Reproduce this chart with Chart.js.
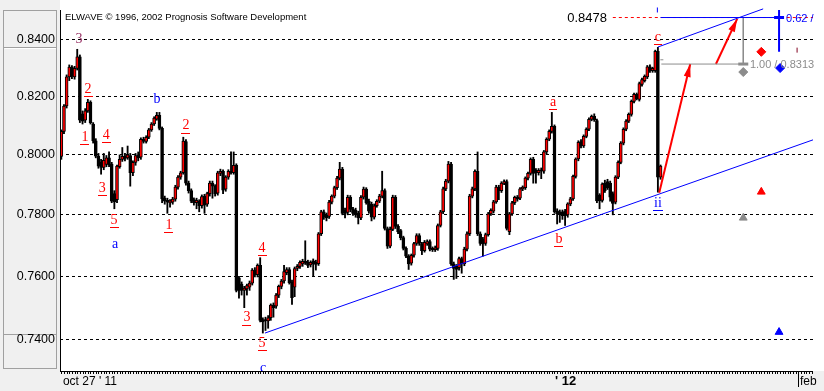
<!DOCTYPE html>
<html><head><meta charset="utf-8">
<script src="https://cdn.jsdelivr.net/npm/chart.js@4/dist/chart.umd.min.js"></script>
<style>html,body{margin:0;padding:0;background:#f0f0f0;overflow:hidden}canvas{display:block}</style>
</head><body>
<canvas id="c" width="824" height="391"></canvas>
<script>
// ---- candle data (6h bars, oct 27 '11 .. mid jan '12) ----
const openP = [
0.7995,0.8080,0.8167,0.8268,0.8302,0.8268,0.8298,0.8338,0.8140,0.8118,
0.8150,0.8180,0.8105,0.8048,0.7996,0.7975,0.7958,0.7968,0.7990,0.7969,
0.7870,0.7850,0.7960,0.7985,0.7995,0.7990,0.7998,0.7940,0.7975,0.8000,
0.7992,0.8053,0.8046,0.8060,0.8085,0.8105,0.8122,0.8135,0.8090,0.7855,
0.7848,0.7840,0.7842,0.7852,0.7892,0.7925,0.7940,0.8045,0.7905,0.7880,
0.7850,0.7840,0.7845,0.7830,0.7862,0.7835,0.7870,0.7905,0.7895,0.7872,
0.7938,0.7945,0.7885,0.7925,0.7945,0.7940,0.7965,0.7595,0.7575,0.7555,
0.7560,0.7565,0.7578,0.7620,0.7605,0.7635,0.7462,0.7462,0.7458,0.7468,
0.7508,0.7505,0.7540,0.7568,0.7585,0.7612,0.7622,0.7582,0.7565,0.7625,
0.7632,0.7640,0.7648,0.7645,0.7637,0.7650,0.7645,0.7641,0.7738,0.7810,
0.7800,0.7795,0.7842,0.7862,0.7890,0.7922,0.7952,0.7815,0.7808,0.7858,
0.7818,0.7815,0.7805,0.7790,0.7858,0.7885,0.7845,0.7835,0.7792,0.7830,
0.7845,0.7862,0.7880,0.7755,0.7697,0.7752,0.7858,0.7762,0.7748,0.7725,
0.7690,0.7665,0.7642,0.7668,0.7706,0.7732,0.7705,0.7683,0.7705,0.7712,
0.7690,0.7686,0.7690,0.7765,0.7810,0.7886,0.7912,0.7969,0.7640,0.7632,
0.7628,0.7657,0.7640,0.7688,0.7738,0.7862,0.7886,0.7945,0.7738,0.7720,
0.7706,0.7735,0.7803,0.7812,0.7843,0.7892,0.7880,0.7905,0.7910,0.7745,
0.7803,0.7840,0.7858,0.7855,0.7886,0.7890,0.7922,0.7938,0.7985,0.7948,
0.7940,0.7950,0.7945,0.8010,0.8053,0.8080,0.8097,0.7813,0.7810,0.7810,
0.7812,0.7800,0.7836,0.7853,0.7928,0.7986,0.8045,0.8030,0.8063,0.8087,
0.8121,0.8131,0.8117,0.7865,0.7848,0.7905,0.7910,0.7905,0.7870,0.7842,
0.7925,0.7975,0.8040,0.8087,0.8115,0.8138,0.8183,0.8207,0.8190,0.8242,
0.8255,0.8268,0.8303,0.8290,0.8290,0.8358,0.7925];
const highP = [
0.8085,0.8172,0.8275,0.8310,0.8308,0.8305,0.8365,0.8345,0.8150,0.8158,
0.8190,0.8185,0.8110,0.8055,0.8005,0.7985,0.8005,0.7998,0.8010,0.7975,
0.7880,0.7966,0.8000,0.8025,0.8005,0.8030,0.8005,0.7980,0.8005,0.8010,
0.8058,0.8060,0.8065,0.8090,0.8110,0.8130,0.8145,0.8145,0.8095,0.7862,
0.7855,0.7850,0.7858,0.7898,0.7930,0.7945,0.8060,0.8052,0.7912,0.7886,
0.7856,0.7855,0.7850,0.7866,0.7868,0.7875,0.7912,0.7912,0.7900,0.7945,
0.7952,0.7950,0.7930,0.7950,0.8010,0.8010,0.7970,0.7600,0.7582,0.7568,
0.7575,0.7585,0.7625,0.7628,0.7640,0.7660,0.7468,0.7470,0.7475,0.7512,
0.7515,0.7545,0.7572,0.7590,0.7635,0.7628,0.7628,0.7588,0.7630,0.7638,
0.7650,0.7655,0.7715,0.7652,0.7650,0.7656,0.7652,0.7742,0.7815,0.7816,
0.7806,0.7848,0.7866,0.7895,0.7928,0.7975,0.7958,0.7822,0.7865,0.7864,
0.7825,0.7822,0.7812,0.7864,0.7892,0.7890,0.7852,0.7842,0.7836,0.7850,
0.7868,0.7945,0.7886,0.7760,0.7760,0.7865,0.7864,0.7768,0.7752,0.7730,
0.7695,0.7670,0.7672,0.7710,0.7738,0.7738,0.7710,0.7716,0.7718,0.7718,
0.7695,0.7698,0.7770,0.7815,0.7892,0.7918,0.7978,0.7975,0.7646,0.7638,
0.7662,0.7662,0.7694,0.7744,0.7868,0.7892,0.7950,0.8010,0.7744,0.7726,
0.7740,0.7808,0.7820,0.7848,0.7898,0.7898,0.7910,0.7916,0.7916,0.7808,
0.7845,0.7862,0.7864,0.7890,0.7896,0.7926,0.7942,0.7990,0.7992,0.7954,
0.7954,0.7956,0.8015,0.8058,0.8085,0.8145,0.8102,0.7820,0.7816,0.7816,
0.7818,0.7840,0.7858,0.7932,0.7990,0.8048,0.8052,0.8068,0.8092,0.8126,
0.8136,0.8140,0.8122,0.7870,0.7906,0.7915,0.7918,0.7912,0.7876,0.7930,
0.7980,0.8045,0.8092,0.8120,0.8143,0.8188,0.8212,0.8212,0.8250,0.8264,
0.8275,0.8308,0.8310,0.8302,0.8362,0.8372,0.7966];
const lowP = [
0.7985,0.8072,0.8160,0.8255,0.8262,0.8260,0.8292,0.8110,0.8105,0.8110,
0.8145,0.8105,0.8040,0.7990,0.7955,0.7935,0.7950,0.7960,0.7960,0.7840,
0.7820,0.7840,0.7955,0.7978,0.7980,0.7985,0.7895,0.7930,0.7965,0.7980,
0.7985,0.8040,0.8040,0.8055,0.8080,0.8100,0.8118,0.8085,0.7840,0.7835,
0.7805,0.7825,0.7835,0.7845,0.7885,0.7918,0.7935,0.7898,0.7872,0.7840,
0.7832,0.7820,0.7810,0.7822,0.7805,0.7828,0.7862,0.7855,0.7862,0.7865,
0.7930,0.7870,0.7878,0.7918,0.7935,0.7935,0.7550,0.7530,0.7540,0.7500,
0.7540,0.7555,0.7572,0.7598,0.7598,0.7455,0.7420,0.7428,0.7435,0.7460,
0.7470,0.7498,0.7532,0.7560,0.7578,0.7605,0.7575,0.7510,0.7535,0.7618,
0.7625,0.7632,0.7638,0.7628,0.7630,0.7600,0.7620,0.7635,0.7732,0.7785,
0.7780,0.7788,0.7836,0.7856,0.7884,0.7916,0.7800,0.7790,0.7800,0.7810,
0.7798,0.7792,0.7770,0.7784,0.7852,0.7835,0.7805,0.7780,0.7786,0.7825,
0.7840,0.7856,0.7750,0.7690,0.7692,0.7748,0.7755,0.7738,0.7718,0.7685,
0.7660,0.7622,0.7636,0.7662,0.7700,0.7700,0.7670,0.7678,0.7700,0.7682,
0.7680,0.7680,0.7684,0.7760,0.7804,0.7880,0.7906,0.7635,0.7590,0.7593,
0.7620,0.7610,0.7634,0.7682,0.7732,0.7856,0.7880,0.7732,0.7700,0.7665,
0.7700,0.7730,0.7798,0.7806,0.7838,0.7850,0.7874,0.7900,0.7750,0.7735,
0.7798,0.7834,0.7845,0.7850,0.7880,0.7884,0.7916,0.7932,0.7905,0.7905,
0.7932,0.7920,0.7938,0.8004,0.8048,0.8074,0.7805,0.7770,0.7775,0.7785,
0.7765,0.7792,0.7830,0.7848,0.7922,0.7980,0.8024,0.8025,0.8058,0.8082,
0.8116,0.8114,0.7840,0.7820,0.7842,0.7874,0.7884,0.7845,0.7800,0.7836,
0.7920,0.7970,0.8034,0.8082,0.8110,0.8132,0.8178,0.8188,0.8184,0.8236,
0.8250,0.8262,0.8284,0.8284,0.8284,0.7875,0.7918];
const closeP = [
0.8080,0.8167,0.8268,0.8302,0.8270,0.8298,0.8338,0.8118,0.8115,0.8150,
0.8180,0.8110,0.8048,0.7996,0.7962,0.7958,0.7982,0.7990,0.7966,0.7845,
0.7843,0.7962,0.7985,0.7995,0.7988,0.8000,0.7940,0.7975,0.7998,0.7990,
0.8053,0.8046,0.8060,0.8085,0.8105,0.8125,0.8135,0.8090,0.7853,0.7845,
0.7842,0.7846,0.7852,0.7892,0.7925,0.7940,0.8047,0.7905,0.7880,0.7845,
0.7840,0.7848,0.7830,0.7860,0.7832,0.7870,0.7905,0.7895,0.7870,0.7940,
0.7945,0.7882,0.7925,0.7945,0.7940,0.7965,0.7555,0.7555,0.7555,0.7562,
0.7570,0.7578,0.7620,0.7605,0.7635,0.7460,0.7455,0.7458,0.7468,0.7508,
0.7500,0.7540,0.7568,0.7585,0.7615,0.7622,0.7580,0.7532,0.7625,0.7632,
0.7645,0.7648,0.7642,0.7635,0.7645,0.7640,0.7638,0.7738,0.7810,0.7792,
0.7790,0.7842,0.7862,0.7890,0.7922,0.7952,0.7805,0.7805,0.7858,0.7818,
0.7805,0.7800,0.7790,0.7858,0.7885,0.7840,0.7812,0.7792,0.7830,0.7845,
0.7862,0.7880,0.7755,0.7697,0.7752,0.7858,0.7762,0.7745,0.7725,0.7690,
0.7665,0.7640,0.7668,0.7706,0.7732,0.7706,0.7683,0.7710,0.7712,0.7688,
0.7686,0.7692,0.7765,0.7810,0.7886,0.7912,0.7969,0.7640,0.7625,0.7622,
0.7657,0.7640,0.7688,0.7738,0.7862,0.7886,0.7945,0.7738,0.7706,0.7705,
0.7735,0.7803,0.7815,0.7843,0.7892,0.7880,0.7905,0.7910,0.7755,0.7803,
0.7840,0.7858,0.7852,0.7886,0.7892,0.7922,0.7938,0.7985,0.7938,0.7940,
0.7948,0.7945,0.8010,0.8053,0.8080,0.8097,0.7810,0.7803,0.7803,0.7797,
0.7797,0.7836,0.7853,0.7928,0.7986,0.8043,0.8030,0.8063,0.8087,0.8121,
0.8131,0.8120,0.7846,0.7846,0.7902,0.7880,0.7890,0.7858,0.7838,0.7925,
0.7975,0.8040,0.8087,0.8115,0.8138,0.8183,0.8207,0.8192,0.8245,0.8259,
0.8270,0.8303,0.8290,0.8298,0.8358,0.7925,0.7962];

// ---- axis values ----
const yTicks = [0.74, 0.76, 0.78, 0.80, 0.82, 0.84];
const yMin = 0.7302, yMax = 0.8541;
const slotCount = 284;               // bar slots on the time axis (incl. empty future area)
const dateText = ["oct 27 ' 11", "' 12", "feb"];
const dateIdx = [0.6, 186.2, 278.6];

// ---- wave labels (index, price) ----
const waveText  = ['3','2','1','4','3','5','a','b','2','1','4','3','5','c','a','b','c','ii'];
const waveIdx   = [6.7,10.1,8.9,16.9,15.4,19.9,20.3,36.1,47.0,40.6,75.7,70.0,75.7,76.1,185.5,187.7,225.0,225.0];
const wavePrice = [0.8402,0.8226,0.8061,0.8068,0.7889,0.7783,0.7705,0.8191,0.8099,0.7767,0.7692,0.7468,0.7389,0.7311,0.8181,0.7721,0.8409,0.7839];
const waveDeg   = ['m','r','r','r','r','r','b','b','r','r','r','r','r','b','r','r','r','b'];

// ---- channel lines & projections (index, price) ----
const lowerChX = [76.8, 283.5],  lowerChY = [0.7420, 0.8051];
const upperChX = [225.0, 264.7], upperChY = [0.8373, 0.8509];
const targetLevel = 0.8478, retraceLevel = 0.8313;
const targetLineX = [226.0, 272.5];
const targetDashX = [208.0, 283.5];
const retraceLineX = [226.3, 257.2];
const projX = 257.2, blueBarX = 270.7, blueBarY = [0.8505, 0.8356];
const arrow1X = [225.5, 237.2], arrow1Y = [0.7873, 0.8313];
const arrow2X = [246.9, 254.9], arrow2Y = [0.8313, 0.8473];
const diamondX = [264.0, 271.1, 257.2], diamondY = [0.8356, 0.8299, 0.8285];
const triX = [264.0, 257.2, 270.7], triY = [0.7876, 0.7790, 0.7423];
const tickMarkX = [224.8, 277.5, 226.5], tickMarkY = [0.8505, 0.8362, 0.8328];
const annText = ['0.8478', '1.00 / 0.8313', '0.62 /'];
const annIdx = [205.8, 259.7, 273.3];
const annPrice = [0.8478, 0.8313, 0.8478];

// ---- build datasets ----
const idx = openP.map((_, i) => i);
const wickData = idx.map(i => ({x: i, y: [lowP[i], highP[i]]}));
const bodyData = idx.map(i => ({x: i, y: [openP[i], closeP[i]]}));
const bodyColor = idx.map(i => closeP[i] > openP[i] ? '#ff0000' : '#000000');
const pts = (xa, ya) => xa.map((x, k) => ({x: x, y: ya[k]}));
const lineDs = (label, data, color, width, dash, order) => ({
  type: 'line', label, data, borderColor: color, borderWidth: width, borderDash: dash || [],
  pointRadius: 0, fill: false, tension: 0, order: order || 2, clip: false
});
const pointDs = (label, data, color, style, radius, bw, rot) => ({
  type: 'line', label, data, showLine: false, pointStyle: style, pointRadius: radius,
  pointBackgroundColor: color, pointBorderColor: color, pointBorderWidth: bw || 1,
  pointRotation: rot || 0, order: 1
});

const datasets = [
  {type: 'bar', label: 'wick', data: wickData, backgroundColor: '#000', borderWidth: 0,
   barThickness: 1.2, grouped: false, order: 20},
  {type: 'bar', label: 'body', data: bodyData, backgroundColor: bodyColor, borderColor: '#000',
   borderWidth: 1, borderSkipped: false, barThickness: 3, minBarLength: 1, grouped: false, order: 19},
  lineDs('lowerChannel', pts(lowerChX, lowerChY), '#0000ff', 1),
  lineDs('upperChannel', pts(upperChX, upperChY), '#0000ff', 1),
  lineDs('targetDash', pts(targetDashX, [targetLevel, targetLevel]), '#ff0000', 1, [3, 3], 3),
  lineDs('targetLine', pts(targetLineX, [targetLevel, targetLevel]), '#0000ff', 1),
  lineDs('retraceLine', pts(retraceLineX, [retraceLevel, retraceLevel]), '#8c8c8c', 1),
  lineDs('projV', pts([projX, projX], [targetLevel, retraceLevel]), '#8c8c8c', 1),
  lineDs('blueBar', pts([blueBarX, blueBarX], blueBarY), '#0000ff', 2),
  lineDs('arrow1', pts(arrow1X, arrow1Y), '#ff0000', 2),
  lineDs('arrow2', pts(arrow2X, arrow2Y), '#ff0000', 2),
  pointDs('handleGray', pts([projX], [retraceLevel]), '#8c8c8c', 'line', 5, 3),
  pointDs('handleBlue', pts([blueBarX], [targetLevel]), '#0000ff', 'line', 5, 3),
  pointDs('markBlue', pts([tickMarkX[0]], [tickMarkY[0]]), '#0000ff', 'line', 2.5, 1, 90),
  pointDs('markDark', pts([tickMarkX[1]], [tickMarkY[1]]), '#800020', 'line', 2.5, 1, 90),
  pointDs('markGray', pts([tickMarkX[2]], [tickMarkY[2]]), '#8c8c8c', 'line', 1.5, 1, 0),
  pointDs('dRed', pts([diamondX[0]], [diamondY[0]]), '#ff0000', 'rectRot', 4.5),
  pointDs('dBlue', pts([diamondX[1]], [diamondY[1]]), '#0000ff', 'rectRot', 4.5),
  pointDs('dGray', pts([diamondX[2]], [diamondY[2]]), '#8c8c8c', 'rectRot', 4.5),
  pointDs('tRed', pts([triX[0]], [triY[0]]), '#ff0000', 'triangle', 4.5),
  pointDs('tGray', pts([triX[1]], [triY[1]]), '#8c8c8c', 'triangle', 4.5),
  pointDs('tBlue', pts([triX[2]], [triY[2]]), '#0000ff', 'triangle', 4.5)
];

const SANS = '"Liberation Sans", Arial, sans-serif';
const SERIF = '"Liberation Serif", "Times New Roman", serif';

const overlay = {
  id: 'overlay',
  beforeDraw(chart) {
    const c = chart.ctx, a = chart.chartArea;
    c.save();
    c.fillStyle = '#f0f0f0'; c.fillRect(0, 0, chart.width, chart.height);
    c.fillStyle = '#ffffff'; c.fillRect(a.left, 0, chart.width - a.left, a.bottom);
    c.strokeStyle = '#a0a0a0'; c.lineWidth = 1;
    c.strokeRect(3.5, 10.5, 53, 358);
    c.beginPath(); c.moveTo(3, 47.5); c.lineTo(57, 47.5); c.moveTo(3, 334.5); c.lineTo(57, 334.5); c.stroke();
    c.strokeStyle = '#ffffff';
    c.beginPath(); c.moveTo(4.5, 48.5); c.lineTo(56, 48.5); c.stroke();
    c.restore();
  },
  afterDatasetsDraw(chart) {
    const c = chart.ctx, xs = chart.scales.x, ys = chart.scales.y;
    c.save();
    // arrowheads
    chart.data.datasets.forEach((ds, di) => {
      if (ds.label !== 'arrow1' && ds.label !== 'arrow2') return;
      const m = chart.getDatasetMeta(di).data;
      const p0 = m[0], p1 = m[1];
      const ang = Math.atan2(p1.y - p0.y, p1.x - p0.x);
      const L = 13, W = 3.5;
      c.fillStyle = '#ff0000';
      c.beginPath();
      c.moveTo(p1.x, p1.y);
      c.lineTo(p1.x - L * Math.cos(ang) + W * Math.sin(ang), p1.y - L * Math.sin(ang) - W * Math.cos(ang));
      c.lineTo(p1.x - L * Math.cos(ang) - W * Math.sin(ang), p1.y - L * Math.sin(ang) + W * Math.cos(ang));
      c.closePath(); c.fill();
    });
    // wave labels
    c.font = '14px ' + SERIF; c.textAlign = 'center'; c.textBaseline = 'middle';
    const col = {r: '#ff0000', b: '#0000ff', m: '#993366'};
    waveText.forEach((t, k) => {
      const px = xs.getPixelForValue(waveIdx[k]), py = ys.getPixelForValue(wavePrice[k]);
      const color = col[waveDeg[k]];
      c.fillStyle = color;
      c.fillText(t, px, py);
      if (waveDeg[k] === 'r' || t === 'ii') {
        const w = c.measureText(t).width + 2;
        c.fillRect(Math.round(px - w / 2), Math.round(py + 7), Math.round(w), 1);
      }
    });
    c.restore();
  },
  afterDraw(chart) {
    const c = chart.ctx, a = chart.chartArea, xs = chart.scales.x, ys = chart.scales.y;
    c.save();
    // axes
    c.fillStyle = '#000';
    c.fillRect(a.left, 10, 1, a.bottom - 10 + 1);
    c.fillRect(a.left, a.bottom, a.right - a.left, 1);
    for (let i = 0; i < slotCount; i++) {
      const px = Math.round(xs.getPixelForValue(i));
      c.fillRect(px, a.bottom + 1, 1, 2);
    }
    // date labels
    c.textBaseline = 'alphabetic'; c.textAlign = 'left';
    dateText.forEach((t, k) => {
      const px = xs.getPixelForValue(dateIdx[k]);
      c.font = (k === 1 ? 'bold 13px ' : '12px ') + SANS;
      c.fillText(t, px, 385);
    });
    const fx = Math.round(xs.getPixelForValue(dateIdx[2])) - 2;
    c.fillRect(fx, a.bottom, 1, 16);
    // header
    c.font = '9.5px ' + SANS; c.fillStyle = '#000';
    c.fillText('ELWAVE \u00A9 1996, 2002 Prognosis Software Development', 65, 20);
    // level annotations
    c.textBaseline = 'middle';
    const annFont = ['13px ', '11px ', '11px '];
    const annCol = ['#000000', '#8c8c8c', '#0000ff'];
    const annAl = ['right', 'left', 'left'];
    annText.forEach((t, k) => {
      c.font = annFont[k] + SANS; c.fillStyle = annCol[k]; c.textAlign = annAl[k];
      c.fillText(t, xs.getPixelForValue(annIdx[k]), ys.getPixelForValue(annPrice[k]) + 1);
    });
    c.restore();
  }
};

new Chart(document.getElementById('c').getContext('2d'), {
  type: 'bar',
  data: {datasets},
  options: {
    responsive: false, animation: false, devicePixelRatio: 1, events: [],
    layout: {autoPadding: false, padding: {top: 0, right: 11, bottom: 20, left: 0}},
    plugins: {legend: {display: false}, tooltip: {enabled: false}},
    scales: {
      x: {type: 'linear', min: -0.5, max: slotCount - 0.5, offset: false, display: false, grid: {display: false}},
      y: {type: 'logarithmic', position: 'left', min: yMin, max: yMax, bounds: 'data',
          afterFit(s) { s.width = 60; s.paddingTop = 0; s.paddingBottom = 0; },
          afterBuildTicks(s) { s.ticks = yTicks.map(v => ({value: v})); },
          ticks: {callback: v => Number(v).toFixed(4), color: '#000', padding: 5, autoSkip: false,
                  font: {family: 'Liberation Sans', size: 12.5}},
          grid: {color: '#000', lineWidth: 1, drawTicks: false},
          border: {display: false, dash: [3, 3]}}
    }
  },
  plugins: [overlay]
});
</script>
</body></html>
